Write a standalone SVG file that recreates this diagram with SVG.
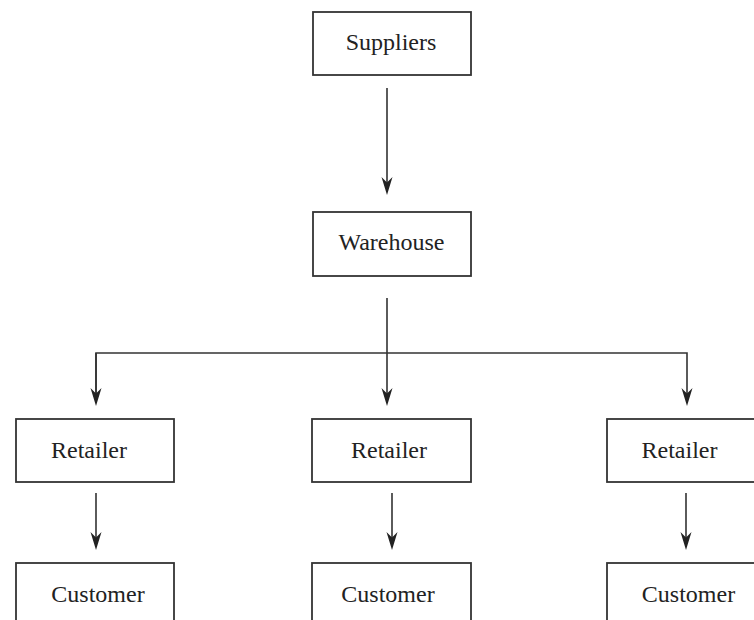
<svg xmlns="http://www.w3.org/2000/svg" width="754" height="620" viewBox="0 0 754 620">
<style>
.box{fill:#fff;stroke:#333;stroke-width:1.8}
.lbl{font-family:"Liberation Serif","Times New Roman",serif;font-size:24px;fill:#222;text-anchor:middle}
.ln{fill:none;stroke:#333;stroke-width:1.6}
</style>
<defs>
<marker id="ah" viewBox="-20 -8 22 16" markerWidth="22" markerHeight="16" refX="-10" refY="0" markerUnits="userSpaceOnUse" orient="auto">
<path d="M0,0 L-18,-5.5 L-12.5,0 L-18,5.5 Z" fill="#222"/>
</marker>
</defs>
<rect width="754" height="620" fill="#fff"/>
<g id="connectors">
<path class="ln" d="M387,88 V185" marker-end="url(#ah)"/>
<path class="ln" d="M387,298 V396" marker-end="url(#ah)"/>
<path class="ln" d="M96,396 V353 H687 V396" marker-end="url(#ah)"/>
<path class="ln" d="M96,353 V396" marker-end="url(#ah)"/>
<path class="ln" d="M96,493 V540" marker-end="url(#ah)"/>
<path class="ln" d="M392,493 V540" marker-end="url(#ah)"/>
<path class="ln" d="M686,493 V540" marker-end="url(#ah)"/>
</g>
<g id="suppliers">
<rect class="box" x="313" y="12" width="158" height="63"/>
<text class="lbl" x="391" y="50">Suppliers</text>
</g>
<g id="warehouse">
<rect class="box" x="313" y="212" width="158" height="64"/>
<text class="lbl" x="391.5" y="250">Warehouse</text>
</g>
<g id="retailer1">
<rect class="box" x="16" y="419" width="158" height="63"/>
<text class="lbl" x="89" y="458">Retailer</text>
</g>
<g id="retailer2">
<rect class="box" x="312" y="419" width="159" height="63"/>
<text class="lbl" x="389" y="458">Retailer</text>
</g>
<g id="retailer3">
<rect class="box" x="607" y="419" width="160" height="63"/>
<text class="lbl" x="679.5" y="458">Retailer</text>
</g>
<g id="customer1">
<rect class="box" x="16" y="563" width="158" height="70"/>
<text class="lbl" x="98" y="602">Customer</text>
</g>
<g id="customer2">
<rect class="box" x="312" y="563" width="159" height="70"/>
<text class="lbl" x="388" y="602">Customer</text>
</g>
<g id="customer3">
<rect class="box" x="607" y="563" width="160" height="70"/>
<text class="lbl" x="688.5" y="602">Customer</text>
</g>
</svg>
